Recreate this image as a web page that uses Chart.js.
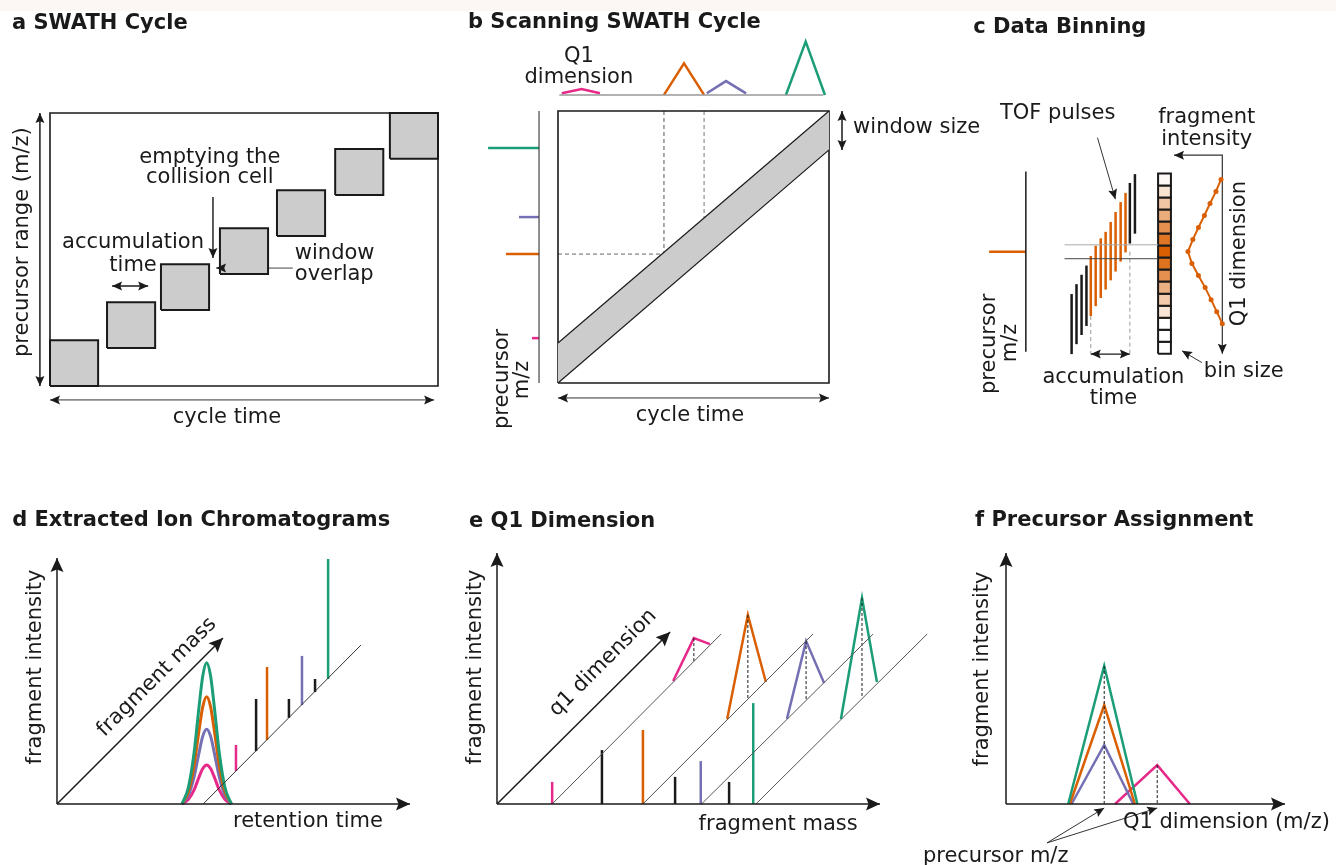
<!DOCTYPE html>
<html>
<head>
<meta charset="utf-8">
<title>SWATH acquisition schematic</title>
<script src="https://cdn.jsdelivr.net/npm/chart.js@4.4.1/dist/chart.umd.min.js"></script>
<style>
  html, body { margin: 0; padding: 0; background: #fff; }
  #page { position: relative; width: 1336px; height: 865px; overflow: hidden; }
  #page canvas { position: absolute; left: 0; top: 0; }
  .strip { position: absolute; left: 0; top: 0; width: 1336px; height: 11px; background: #fcf6f4; }
</style>
</head>
<body>
<div id="page">
  <div class="strip"></div>
  <canvas id="panelA" width="1336" height="865"></canvas>
  <canvas id="panelB" width="1336" height="865"></canvas>
  <canvas id="panelC" width="1336" height="865"></canvas>
  <canvas id="panelD" width="1336" height="865"></canvas>
  <canvas id="panelE" width="1336" height="865"></canvas>
  <canvas id="panelF" width="1336" height="865"></canvas>
</div>
<script>
// ---- a: SWATH cycle (cycle time 0-100, precursor m/z 0-100)
const cycleStart = [0, 14.7, 28.6, 43.8, 58.5, 73.5, 87.6];
const windowLow = [0, 13.9, 27.8, 41.0, 54.9, 70.0, 83.2];
const accumWidth = 12.4;
const windowHeight = 16.8;

// ---- b: scanning SWATH
const scanTime = [0, 100];
const scanLower = [0, 85.7];
const scanUpper = [14.7, 100];
const scanStartEnd = [39.1, 53.9];
const q1PinkX = [1.4, 8.7, 15.5];
const q1PinkH = [0.6, 2.2, 0.6];
const q1OrangeX = [39.1, 46.5, 53.9];
const q1OrangeH = [0, 11.6, 0];
const q1PurpleX = [54.9, 62.0, 69.4];
const q1PurpleH = [0.6, 5.1, 0.6];
const q1GreenX = [84.1, 91.4, 98.5];
const q1GreenH = [0, 19.6, 0];
const precursorIon = ['green', 'purple', 'orange', 'pink'];
const precursorMz = [86.4, 61.0, 47.4, 16.5];
const precursorInt = [18.8, 7.4, 12.2, 2.6];

// ---- c: data binning
const pulseTime = [25.3, 28.0, 30.8, 33.5, 35.9, 38.6, 41.4, 44.1, 46.9, 49.6, 52.4, 55.1, 57.5, 60.3];
const pulseLow = [-0.2, 5.3, 10.4, 15.4, 20.9, 26.4, 30.9, 35.6, 40.7, 45.6, 51.1, 56.2, 61.1, 66.6];
const pulseHigh = [33.1, 38.6, 43.8, 48.9, 54.2, 59.9, 64.0, 67.6, 73.1, 78.6, 84.1, 89.2, 94.7, 99.6];
const pulseInWindow = [0, 0, 0, 0, 1, 1, 1, 1, 1, 1, 1, 1, 0, 0];
const binIntensity = [0.7, 3.5, 6.8, 9.9, 13.2, 16.3, 19.0, 16.8, 13.2, 9.5, 6.2, 3.1, 0, 0, 0];
const binCount = 15;

// ---- d: extracted ion chromatograms
const xicTime = [35.4, 37.2, 38.8, 40.2, 41.3, 42.4, 43.5, 44.6, 46.0, 47.6, 49.4];
const xicGreen = [0, 6.6, 20.4, 39.0, 52.1, 57.4, 52.1, 39.0, 20.4, 6.6, 0];
const xicOrange = [0, 5.0, 15.5, 29.6, 39.6, 43.6, 39.6, 29.6, 15.5, 5.0, 0];
const xicPurple = [0, 3.5, 10.8, 20.6, 27.6, 30.4, 27.6, 20.6, 10.8, 3.5, 0];
const xicPink = [0, 1.8, 5.6, 10.8, 14.4, 15.9, 14.4, 10.8, 5.6, 1.8, 0];
const massAxisX = [41.4, 86.1];
const massAxisY = [0, 64.6];
const dStickIon = ['pink', 'black', 'orange', 'black', 'purple', 'black', 'green'];
const dStickX = [50.7, 56.4, 59.5, 65.7, 69.4, 73.1, 76.8];
const dStickBase = [13.4, 21.5, 26.0, 35.0, 40.2, 45.5, 50.8];
const dStickTop = [24.0, 42.7, 55.7, 42.7, 60.2, 50.8, 99.6];

// ---- e: Q1 dimension
const eStickIon = ['pink', 'black', 'orange', 'black', 'purple', 'black', 'green'];
const eStickMass = [14.4, 27.4, 38.1, 46.5, 53.2, 60.6, 66.9];
const eStickTop = [8.8, 21.5, 29.5, 10.8, 17.1, 8.8, 40.2];
const q1LineStart = [14.4, 38.1, 53.4, 67.6];
const q1LineEnd = [58.5, 82.5, 98.2, 112.3];
const q1LineTop = 67.7;
const ePeakIon = ['pink', 'orange', 'purple', 'green'];
const ePeakX = [[46.0, 51.4, 55.6], [60.1, 65.5, 70.2], [75.7, 80.7, 85.4], [89.8, 95.3, 99.2]];
const ePeakY = [[49.0, 66.1, 63.7], [33.9, 75.3, 48.6], [33.9, 64.9, 48.2], [33.9, 82.1, 48.6]];
const ePeakBase = [56.5, 41.8, 41.7, 42.3];

// ---- f: precursor assignment
const fPeakIon = ['green', 'orange', 'purple', 'pink'];
const fPeakX = [[22.3, 35.2, 47.1], [22.9, 35.2, 46.2], [23.5, 35.2, 45.6], [39.1, 54.2, 65.9]];
const fPeakY = [[0, 55.0, 0], [0, 39.4, 0], [0, 23.5, 0], [0, 15.5, 0]];
const fPrecursorMz = [35.2, 54.2];
const fPrecursorTop = [55.0, 15.5];

const ION = { green: '#1b9e77', orange: '#d95f02', purple: '#7570b3', pink: '#e7298a', black: '#1a1a1a' };
const INK = '#1a1a1a';
const GREY_FILL = '#cccccc';
const W = 1336, H = 865;

// where each panel's data origin sits on the page, and pixels per unit
const frames = {
  panelA: { ox: 50, oy: 386, ux: 3.88, uy: 2.73 },
  panelB: { ox: 558, oy: 383, ux: 2.71, uy: 2.72 },
  panelC: { ox: 1028, oy: 353, ux: 1.82, uy: 1.82 },
  panelD: { ox: 57, oy: 804, ux: 3.53, uy: 2.46 },
  panelE: { ox: 497, oy: 804, ux: 3.83, uy: 2.51 },
  panelF: { ox: 1006, oy: 804, ux: 2.79, uy: 2.51 }
};
const panelLabels = {};

function pts(xs, ys) { return xs.map((x, i) => ({ x, y: ys[i] })); }
function seg(x1, y1, x2, y2) { return [{ x: x1, y: y1 }, { x: x2, y: y2 }]; }
function rectPts(x, y, w, h) { return pts([x, x + w, x + w, x, x], [y, y, y + h, y + h, y]); }
function line(data, color, width, extra) {
  return Object.assign({ data, borderColor: color, borderWidth: width, pointRadius: 0, fill: false, clip: false, tension: 0 }, extra || {});
}
const BIG = { headLen: 14, headHalf: 6.5 };
const SMALL = { headLen: 10, headHalf: 4.5 };

function drawHead(ctx, from, to, len, half, color) {
  const a = Math.atan2(to.y - from.y, to.x - from.x);
  ctx.save();
  ctx.translate(to.x, to.y);
  ctx.rotate(a);
  ctx.beginPath();
  ctx.moveTo(0, 0);
  ctx.lineTo(-len, -half);
  ctx.lineTo(-len * 0.82, 0);
  ctx.lineTo(-len, half);
  ctx.closePath();
  ctx.fillStyle = color;
  ctx.fill();
  ctx.restore();
}

const sketch = {
  id: 'sketch',
  afterDatasetsDraw(chart) {
    const ctx = chart.ctx;
    chart.data.datasets.forEach((ds, i) => {
      if (!ds.head) return;
      const p = chart.getDatasetMeta(i).data;
      const n = p.length;
      const col = ds.headColor || INK;
      if (ds.head === 'end' || ds.head === 'both') drawHead(ctx, p[n - 2], p[n - 1], ds.headLen, ds.headHalf, col);
      if (ds.head === 'start' || ds.head === 'both') drawHead(ctx, p[1], p[0], ds.headLen, ds.headHalf, col);
    });
    const xs = chart.scales.x, ys = chart.scales.y;
    (panelLabels[chart.canvas.id] || []).forEach(l => {
      ctx.save();
      ctx.font = (l.bold ? 'bold ' : '') + (l.size || 21) + 'px "DejaVu Sans"';
      ctx.fillStyle = INK;
      ctx.textAlign = l.align || 'center';
      ctx.textBaseline = 'middle';
      ctx.translate(xs.getPixelForValue(l.x), ys.getPixelForValue(l.y));
      if (l.rot) ctx.rotate(l.rot * Math.PI / 180);
      ctx.fillText(l.t, 0, 0);
      ctx.restore();
    });
  }
};

function drawPanel(id, datasets, labels) {
  const f = frames[id];
  panelLabels[id] = labels;
  return new Chart(document.getElementById(id), {
    type: 'line',
    data: { datasets },
    options: {
      responsive: false,
      animation: false,
      events: [],
      layout: { padding: 0 },
      scales: {
        x: { type: 'linear', display: false, min: -f.ox / f.ux, max: (W - f.ox) / f.ux },
        y: { type: 'linear', display: false, min: (f.oy - H) / f.uy, max: f.oy / f.uy }
      },
      plugins: { legend: { display: false }, tooltip: { enabled: false } }
    },
    plugins: [sketch]
  });
}

// ---------- panel a
const aSets = cycleStart.map((x, i) =>
  line(rectPts(x, windowLow[i], accumWidth, windowHeight), INK, 2, { fill: 'shape', backgroundColor: GREY_FILL }));
aSets.push(
  line(rectPts(0, 0, 100, 100), INK, 1.6),
  line(seg(-2.6, 0, -2.6, 100), INK, 1.5, Object.assign({ head: 'both' }, SMALL)),
  line(seg(0, -5.1, 99, -5.1), '#333', 1, Object.assign({ head: 'both' }, SMALL)),
  line(seg(42.0, 69.2, 42.0, 46.9), '#444', 1, Object.assign({ head: 'end' }, SMALL)),
  line(seg(16.0, 36.6, 25.3, 36.6), INK, 1.5, Object.assign({ head: 'both' }, SMALL)),
  line(seg(62.6, 43.2, 42.8, 43.2), '#444', 1, Object.assign({ head: 'end' }, SMALL))
);
drawPanel('panelA', aSets, [
  { t: 'a SWATH Cycle', x: -9.8, y: 132.8, align: 'left', bold: true },
  { t: 'precursor range (m/z)', x: -7.0, y: 52.7, rot: -90 },
  { t: 'cycle time', x: 45.6, y: -11.4 },
  { t: 'emptying the', x: 41.2, y: 83.5 },
  { t: 'collision cell', x: 41.2, y: 76.2 },
  { t: 'accumulation', x: 21.4, y: 52.4 },
  { t: 'time', x: 21.4, y: 44.3 },
  { t: 'window', x: 63.1, y: 48.7, align: 'left' },
  { t: 'overlap', x: 63.1, y: 40.7, align: 'left' }
]);

// ---------- panel b
const q1Base = 105.9;
const lift = h => h.map(v => q1Base + v);
const bSets = [
  line(pts(scanTime, scanLower), INK, 1.2),
  line(pts(scanTime, scanUpper), INK, 1.2, { fill: '-1', backgroundColor: GREY_FILL }),
  line(rectPts(0, 0, 100, 100), INK, 1.6),
  line(seg(scanStartEnd[0], 100, scanStartEnd[0], precursorMz[2]), '#555', 1, { borderDash: [4, 3] }),
  line(seg(scanStartEnd[1], 100, scanStartEnd[1], precursorMz[2]), '#777', 1, { borderDash: [4, 3] }),
  line(seg(0, precursorMz[2], scanStartEnd[1], precursorMz[2]), '#666', 1, { borderDash: [4, 3] }),
  line(seg(104.8, 100, 104.8, scanLower[1]), INK, 1.5, Object.assign({ head: 'both' }, SMALL)),
  line(seg(0.5, q1Base, 97.9, q1Base), '#999', 1.5),
  line(pts(q1PinkX, lift(q1PinkH)), ION.pink, 2.5),
  line(pts(q1OrangeX, lift(q1OrangeH)), ION.orange, 2.5),
  line(pts(q1PurpleX, lift(q1PurpleH)), ION.purple, 2.5),
  line(pts(q1GreenX, lift(q1GreenH)), ION.green, 2.5),
  line(seg(-7.0, 0, -7.0, 100), '#444', 1.2),
  line(seg(0, -5.5, 100, -5.5), '#333', 1, Object.assign({ head: 'both' }, SMALL))
];
precursorMz.forEach((mz, i) => {
  bSets.push(line(seg(-7.0 - precursorInt[i], mz, -7.0, mz), ION[precursorIon[i]], 2.5));
});
drawPanel('panelB', bSets, [
  { t: 'b Scanning SWATH Cycle', x: -33.2, y: 132.6, align: 'left', bold: true },
  { t: 'Q1', x: 7.7, y: 120.0 },
  { t: 'dimension', x: 7.7, y: 112.4 },
  { t: 'window size', x: 108.9, y: 93.8, align: 'left' },
  { t: 'precursor', x: -20.3, y: 1.5, rot: -90 },
  { t: 'm/z', x: -12.9, y: 1.1, rot: -90 },
  { t: 'cycle time', x: 48.7, y: -11.8 }
]);

// ---------- panel c
const binStep = 100 / binCount;
const binMax = Math.max(...binIntensity);
const mix = (a, b, t) => Math.round(a + (b - a) * t);
const binColor = v => {
  const t = v / binMax;
  return 'rgb(' + mix(255, 217, t) + ',' + mix(255, 95, t) + ',' + mix(255, 2, t) + ')';
};
const cSets = [
  line(seg(0, 1.1, 0, 101.1), INK, 1.5),
  line(seg(-20.3, 56.6, 0, 56.6), ION.orange, 2.5),
  line(seg(21.4, 60.4, 73.1, 60.4), '#aaa', 1),
  line(seg(21.4, 52.7, 73.1, 52.7), '#444', 1),
  line(seg(35.9, 20.9, 35.9, -0.2), '#999', 1, { borderDash: [4, 3] }),
  line(seg(57.5, 56.6, 57.5, -0.2), '#999', 1, { borderDash: [4, 3] }),
  line(seg(35.9, -0.2, 57.5, -0.2), INK, 1.2, Object.assign({ head: 'both' }, SMALL))
];
pulseTime.forEach((t, i) => {
  cSets.push(line(seg(t, pulseLow[i], t, pulseHigh[i]), pulseInWindow[i] ? ION.orange : INK, 2.5));
});
binIntensity.forEach((v, k) => {
  cSets.push(line(rectPts(73.1, 100 - (k + 1) * binStep, 7.1, binStep), INK, 2,
    { fill: 'shape', backgroundColor: binColor(v) }));
});
const curveBins = binIntensity.slice(0, 13);
cSets.push(
  line(pts(curveBins.map(v => 108.6 - v), curveBins.map((v, k) => 100 - (k + 0.5) * binStep)), ION.orange, 2,
    { pointRadius: 2.5, pointBackgroundColor: ION.orange, pointBorderWidth: 0 }),
  line(pts([81.9, 108.6, 108.6], [110.1, 110.1, 0]), '#333', 1.2, Object.assign({ head: 'both' }, SMALL)),
  line(seg(39.6, 119.8, 49.5, 85.7), '#333', 1, Object.assign({ head: 'end' }, SMALL)),
  line(seg(97.3, -4.9, 86.3, 1.6), '#333', 1, Object.assign({ head: 'end' }, SMALL))
);
drawPanel('panelC', cSets, [
  { t: 'c Data Binning', x: -29.1, y: 181.0, align: 'left', bold: true },
  { t: 'TOF pulses', x: 17.6, y: 133.0 },
  { t: 'fragment', x: 100, y: 130.8 },
  { t: 'intensity', x: 100, y: 118.7 },
  { t: 'Q1 dimension', x: 118.0, y: 55.5, rot: -90 },
  { t: 'precursor', x: -19.8, y: 5.5, rot: -90 },
  { t: 'm/z', x: -8.2, y: 6.0, rot: -90 },
  { t: 'accumulation', x: 48.4, y: -13.2 },
  { t: 'time', x: 48.4, y: -24.7 },
  { t: 'bin size', x: 98.4, y: -9.9, align: 'left' }
]);

// ---------- panel d
const smooth = { tension: 0.4, cubicInterpolationMode: 'monotone' };
const dSets = [
  line(seg(0, 0, 0, 100), INK, 1.5, Object.assign({ head: 'end' }, BIG)),
  line(seg(0, 0, 100, 0), INK, 1.5, Object.assign({ head: 'end' }, BIG)),
  line(seg(0, 0, 47.0, 67.5), INK, 1.5, Object.assign({ head: 'end' }, BIG)),
  line(pts(massAxisX, massAxisY), '#333', 1),
  line(pts(xicTime, xicGreen), ION.green, 3, smooth),
  line(pts(xicTime, xicOrange), ION.orange, 3, smooth),
  line(pts(xicTime, xicPurple), ION.purple, 3, smooth),
  line(pts(xicTime, xicPink), ION.pink, 3, smooth)
];
dStickX.forEach((x, i) => {
  dSets.push(line(seg(x, dStickBase[i], x, dStickTop[i]), ION[dStickIon[i]], 2.5));
});
drawPanel('panelD', dSets, [
  { t: 'd Extracted Ion Chromatograms', x: -12.7, y: 115.4, align: 'left', bold: true },
  { t: 'fragment intensity', x: -6.2, y: 55.7, rot: -90 },
  { t: 'fragment mass', x: 28.3, y: 51.6, rot: -45 },
  { t: 'retention time', x: 71.1, y: -7.3 }
]);

// ---------- panel e
const eSets = [
  line(seg(0, 0, 0, 100), INK, 1.5, Object.assign({ head: 'end' }, BIG)),
  line(seg(0, 0, 100, 0), INK, 1.5, Object.assign({ head: 'end' }, BIG)),
  line(seg(0, 0, 45.2, 68.5), INK, 1.5, Object.assign({ head: 'end' }, BIG))
];
q1LineStart.forEach((x, i) => eSets.push(line(seg(x, 0, q1LineEnd[i], q1LineTop), '#555', 1)));
eStickMass.forEach((x, i) => eSets.push(line(seg(x, 0, x, eStickTop[i]), ION[eStickIon[i]], 2.5)));
ePeakX.forEach((xs, i) => {
  eSets.push(line(seg(xs[1], ePeakY[i][1], xs[1], ePeakBase[i]), INK, 1, { borderDash: [3, 2] }));
  eSets.push(line(pts(xs, ePeakY[i]), ION[ePeakIon[i]], 2.5));
});
drawPanel('panelE', eSets, [
  { t: 'e Q1 Dimension', x: -7.3, y: 112.5, align: 'left', bold: true },
  { t: 'fragment intensity', x: -5.6, y: 54.6, rot: -90 },
  { t: 'q1 dimension', x: 27.7, y: 56.2, rot: -45 },
  { t: 'fragment mass', x: 73.4, y: -8.0 }
]);

// ---------- panel f
const fSets = [
  line(seg(0, 0, 0, 100), INK, 1.5, Object.assign({ head: 'end' }, BIG)),
  line(seg(0, 0, 100, 0), INK, 1.5, Object.assign({ head: 'end' }, BIG))
];
fPrecursorMz.forEach((x, i) => fSets.push(line(seg(x, fPrecursorTop[i], x, 0), INK, 1, { borderDash: [3, 2] })));
fPeakX.forEach((xs, i) => fSets.push(line(pts(xs, fPeakY[i]), ION[fPeakIon[i]], 2.5)));
fPrecursorMz.forEach(x => fSets.push(line(seg(14.7, -15.5, x, -1.6), '#333', 1, Object.assign({ head: 'end' }, SMALL))));
drawPanel('panelF', fSets, [
  { t: 'f Precursor Assignment', x: -11.1, y: 113.1, align: 'left', bold: true },
  { t: 'fragment intensity', x: -8.4, y: 53.8, rot: -90 },
  { t: 'Q1 dimension (m/z)', x: 41.9, y: -7.4, align: 'left' },
  { t: 'precursor m/z', x: -3.7, y: -20.9 }
]);
</script>
</body>
</html>
